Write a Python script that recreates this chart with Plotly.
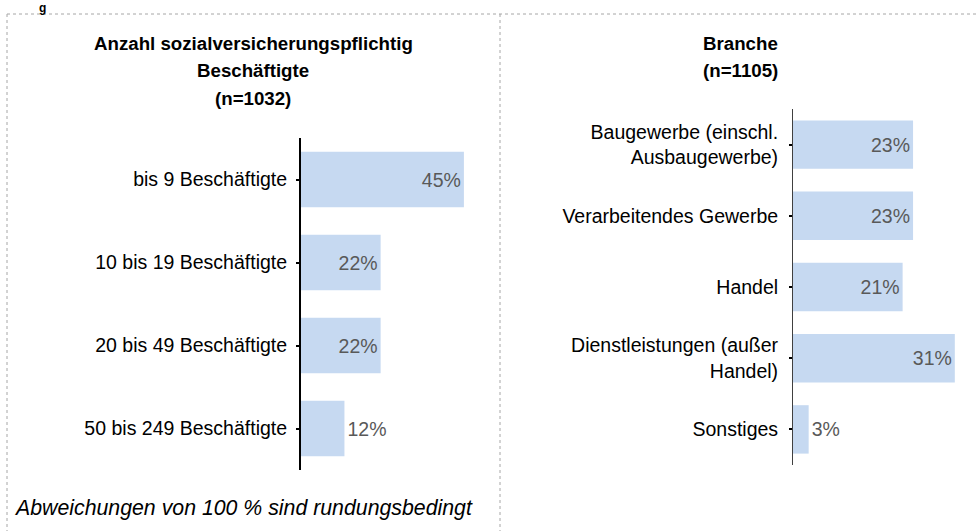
import plotly.graph_objects as go

# ---- data ----
size_cats = ["bis 9 Beschäftigte", "10 bis 19 Beschäftigte", "20 bis 49 Beschäftigte", "50 bis 249 Beschäftigte"]
size_vals = [45, 22, 22, 12]
size_text = ["45%", "22%", "22%", "12%"]

branch_cats = ["Baugewerbe (einschl.<br>Ausbaugewerbe)", "Verarbeitendes Gewerbe", "Handel",
               "Dienstleistungen (außer<br>Handel)", "Sonstiges"]
branch_vals = [23, 23, 21, 31, 3]
branch_text = ["23%", "23%", "21%", "31%", "3%"]

title_left = ["Anzahl sozialversicherungspflichtig", "Beschäftigte", "(n=1032)"]
title_right = ["Branche", "(n=1105)"]
footnote = "Abweichungen von 100 % sind rundungsbedingt"
cut_heading = "g"

W, H = 978, 531
FONT = "Liberation Sans, Arial, sans-serif"
BAR = "#C6D9F1"
VAL = "#595959"
FS = 19.5


def px(x):
    return x / W


def py(y):
    return 1 - y / H


fig = go.Figure()

fig.add_trace(go.Bar(
    x=size_vals, y=size_cats, orientation="h", xaxis="x", yaxis="y",
    marker=dict(color=BAR, line=dict(width=0)), width=0.67,
    text=size_text, textposition=["inside", "inside", "inside", "outside"],
    insidetextanchor="end", constraintext="none", cliponaxis=False,
    insidetextfont=dict(family=FONT, size=FS, color=VAL),
    outsidetextfont=dict(family=FONT, size=FS, color=VAL),
    hoverinfo="skip", showlegend=False,
))

fig.add_trace(go.Bar(
    x=branch_vals, y=branch_cats, orientation="h", xaxis="x2", yaxis="y2",
    marker=dict(color=BAR, line=dict(width=0)), width=0.68,
    text=branch_text, textposition=["inside", "inside", "inside", "inside", "outside"],
    insidetextanchor="end", constraintext="none", cliponaxis=False,
    insidetextfont=dict(family=FONT, size=FS, color=VAL),
    outsidetextfont=dict(family=FONT, size=FS, color=VAL),
    hoverinfo="skip", showlegend=False,
))

hidden_x = dict(showline=False, showgrid=False, zeroline=False, showticklabels=False, ticks="")

fig.update_layout(
    width=W, height=H, margin=dict(l=0, r=0, t=0, b=0),
    paper_bgcolor="white", plot_bgcolor="rgba(0,0,0,0)",
    font=dict(family=FONT, size=FS, color="#000000"),
    xaxis=dict(domain=[px(301), px(490)], range=[0, 189 / 3.62], anchor="y", **hidden_x),
    yaxis=dict(domain=[py(470), py(138)], anchor="x", type="category",
               categoryorder="array", categoryarray=size_cats, autorange="reversed",
               showline=True, linecolor="#000000", linewidth=2, showgrid=False, zeroline=False,
               ticks="outside", ticklen=3, tickwidth=2, tickcolor="#000000",
               ticklabelstandoff=5,
               tickfont=dict(family=FONT, size=FS, color="#000000")),
    xaxis2=dict(domain=[px(793), px(970)], range=[0, 177 / 5.22], anchor="y2", **hidden_x),
    yaxis2=dict(domain=[py(465), py(109)], anchor="x2", type="category",
                categoryorder="array", categoryarray=branch_cats, autorange="reversed",
                showline=True, linecolor="#404040", linewidth=1, showgrid=False, zeroline=False,
                ticks="outside", ticklen=3, tickwidth=2, tickcolor="#000000",
                ticklabelstandoff=7,
                tickfont=dict(family=FONT, size=FS, color="#000000")),
)

annotations = []
for txt, yc in zip(title_left, [43.5, 70.5, 98]):
    annotations.append(dict(text=f"<b>{txt}</b>", x=px(253), y=py(yc), xref="paper", yref="paper",
                            xanchor="center", yanchor="middle", showarrow=False,
                            font=dict(family=FONT, size=18.7, color="#000000")))
for txt, yc in zip(title_right, [43.5, 70.5]):
    annotations.append(dict(text=f"<b>{txt}</b>", x=px(740), y=py(yc), xref="paper", yref="paper",
                            xanchor="center", yanchor="middle", showarrow=False,
                            font=dict(family=FONT, size=18.7, color="#000000")))
annotations.append(dict(text=f"<i>{footnote}</i>", x=px(12), y=py(508), xref="paper", yref="paper",
                        xanchor="left", yanchor="middle", showarrow=False,
                        font=dict(family=FONT, size=21.3, color="#000000")))
annotations.append(dict(text=f"<b>{cut_heading}</b>", x=px(42), y=py(0), xref="paper", yref="paper",
                        xanchor="center", yanchor="top", showarrow=False, borderpad=0,
                        font=dict(family=FONT, size=12, color="#000000")))
fig.update_layout(annotations=annotations)

border = dict(color="#A6A6A6", width=1, dash="dot")
fig.update_layout(shapes=[
    dict(type="line", xref="paper", yref="paper", x0=px(7), x1=1, y0=py(14), y1=py(14), line=border),
    dict(type="line", xref="paper", yref="paper", x0=px(7), x1=px(7), y0=py(14), y1=0, line=border),
    dict(type="line", xref="paper", yref="paper", x0=px(500), x1=px(500), y0=py(14), y1=0, line=border),
])

fig.write_html("out.html", config={"displayModeBar": False},
               post_script="document.body.style.margin='0';document.body.style.overflow='hidden';")
